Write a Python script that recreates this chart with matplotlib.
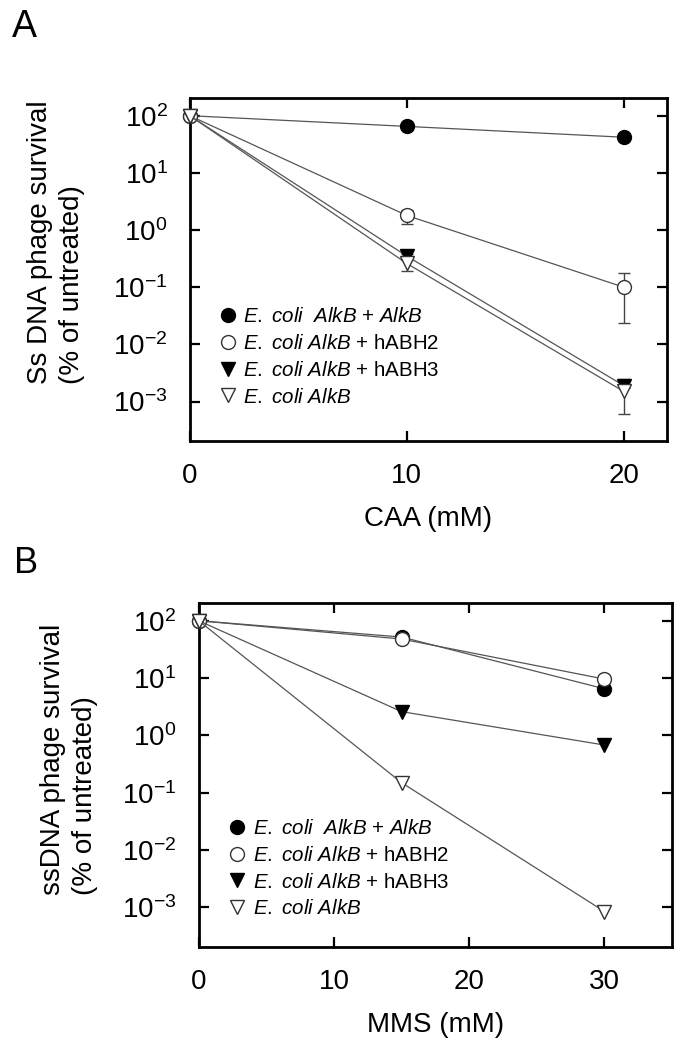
import matplotlib
matplotlib.use("Agg")
import matplotlib.pyplot as plt
import numpy as np
from matplotlib.ticker import FixedLocator, NullLocator

plt.rcParams['font.family'] = ['Liberation Sans', 'DejaVu Sans']
plt.rcParams['mathtext.fontset'] = 'custom'
plt.rcParams['mathtext.rm'] = 'Liberation Sans'
plt.rcParams['mathtext.it'] = 'Liberation Sans:italic'
plt.rcParams['mathtext.default'] = 'regular'

# ---- data ----
labels = [r"$\it{E.\ coli\ \ AlkB}$ + $\it{AlkB}$",
          r"$\it{E.\ coli\ AlkB}$ + hABH2",
          r"$\it{E.\ coli\ AlkB}$ + hABH3",
          r"$\it{E.\ coli\ AlkB}$"]

caa_x = [0, 10, 20]
caa_alkb_alkb = [100, 65, 42]
caa_habh2 = [100, 1.8, 0.10]
caa_habh3 = [100, 0.35, 0.0019]
caa_alkb = [100, 0.26, 0.0015]
caa_habh2_lo = [100, 1.3, 0.024]
caa_habh2_hi = [100, 2.2, 0.18]
caa_habh3_lo = [100, 0.33, 0.0017]
caa_habh3_hi = [100, 0.38, 0.0024]
caa_alkb_lo = [100, 0.19, 0.0006]
caa_alkb_hi = [100, 0.30, 0.0025]

mms_x = [0, 15, 30]
mms_alkb_alkb = [100, 52, 6.5]
mms_habh2 = [100, 48, 9.6]
mms_habh3 = [100, 2.6, 0.68]
mms_alkb = [100, 0.15, 0.00085]

yticks = [1e-3, 1e-2, 1e-1, 1e0, 1e1, 1e2]
ytick_labels = [r"$10^{-3}$", r"$10^{-2}$", r"$10^{-1}$", r"$10^{0}$", r"$10^{1}$", r"$10^{2}$"]

styles = [dict(marker='o', mfc='black', mec='black'),
          dict(marker='o', mfc='white', mec='#333333'),
          dict(marker='v', mfc='black', mec='black'),
          dict(marker='v', mfc='white', mec='#333333')]

fig = plt.figure(figsize=(6.9, 10.49), dpi=100)

def setup(ax, xticks, xlim, xlabel):
    ax.set_yscale('log')
    ax.set_ylim(10**-3.69, 10**2.31)
    ax.set_xlim(*xlim)
    ax.yaxis.set_major_locator(FixedLocator(yticks))
    ax.set_yticklabels(ytick_labels)
    ax.yaxis.set_minor_locator(NullLocator())
    ax.set_xticks(xticks)
    ax.set_xticklabels([str(t) for t in xticks])
    ax.tick_params(direction='in', length=7, width=1.6, labelsize=20,
                   top=True, right=True, pad=16)
    for s in ax.spines.values():
        s.set_linewidth(2)
    ax.set_xlabel(xlabel, fontsize=20, labelpad=12)

def draw(ax, x, series, errs):
    for i, (y, st) in enumerate(zip(series, styles)):
        ax.plot(x, y, color='#555555', lw=0.9, ms=10, mew=1.0, zorder=3,
                clip_on=False, label=labels[i], **st)
        if errs[i] is not None:
            lo, hi = errs[i]
            yerr = [np.array(y) - np.array(lo), np.array(hi) - np.array(y)]
            ax.errorbar(x[1:], y[1:], yerr=[yerr[0][1:], yerr[1][1:]], fmt='none',
                        ecolor='#444444', elinewidth=1.0, capsize=4, capthick=1.0, zorder=2)

def legend(ax, anchor):
    leg = ax.legend(loc='upper left', bbox_to_anchor=anchor, frameon=False, fontsize=14.8,
                    handlelength=0.9, handletextpad=0.3, labelspacing=0.38,
                    borderaxespad=0, borderpad=0)
    for h in leg.legend_handles:
        h.set_linestyle('none')

# Panel A
axA = fig.add_axes([0.275, 0.5796, 0.692, 0.327])
setup(axA, [0, 10, 20], (0, 22), "CAA (mM)")
draw(axA, caa_x, [caa_alkb_alkb, caa_habh2, caa_habh3, caa_alkb],
     [None, (caa_habh2_lo, caa_habh2_hi), (caa_habh3_lo, caa_habh3_hi), (caa_alkb_lo, caa_alkb_hi)])
legend(axA, (0.06, 0.39))
fig.text(56.5 / 690, 1 - 242.5 / 1049, "Ss DNA phage survival\n(% of untreated)",
         rotation=90, ha='center', va='center', multialignment='left',
         fontsize=20, linespacing=1.3)

# Panel B
axB = fig.add_axes([0.288, 0.0972, 0.686, 0.328])
setup(axB, [0, 10, 20, 30], (0, 35), "MMS (mM)")
draw(axB, mms_x, [mms_alkb_alkb, mms_habh2, mms_habh3, mms_alkb], [None, None, None, None])
legend(axB, (0.062, 0.372))
fig.text(68.5 / 690, 1 - 759.5 / 1049, "ssDNA phage survival\n(% of untreated)",
         rotation=90, ha='center', va='center', multialignment='left',
         fontsize=20, linespacing=1.3)

fig.text(0.017, 1 - 37 / 1049, "A", fontsize=27, ha='left', va='baseline')
fig.text(0.020, 1 - 573 / 1049, "B", fontsize=26, ha='left', va='baseline')

fig.savefig("out.png", dpi=100)
